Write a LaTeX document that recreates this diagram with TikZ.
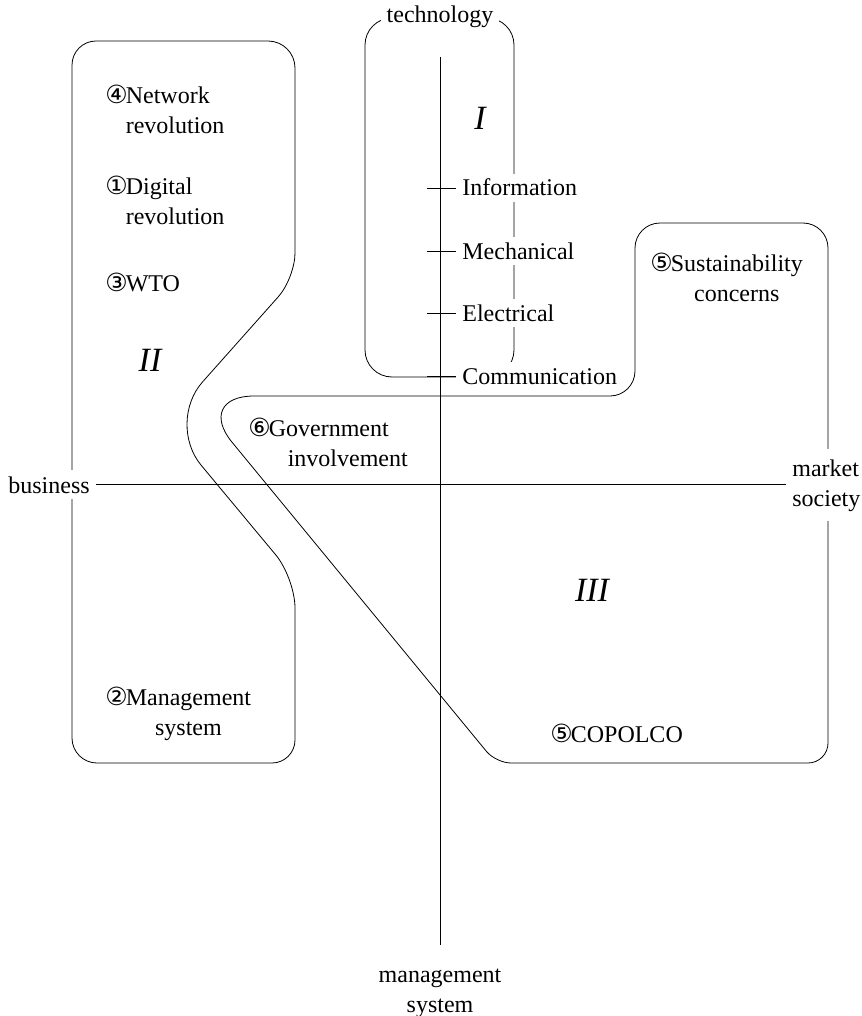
\documentclass[tikz,border=0pt]{standalone}
\usepackage{fontspec}
\setmainfont{Liberation Serif}
\newfontfamily\circfont{DejaVu Sans}
\newcommand{\cn}[1]{{\circfont\fontsize{12.5}{12}\selectfont#1}\kern-1pt}
\newcommand{\topic}[3]{\cn{#1}\begin{tabular}[t]{@{}#2@{}}#3\end{tabular}}

\begin{document}
\begin{tikzpicture}[x=0.5pt,y=-0.5pt,
    font=\fontsize{12}{15}\selectfont,
    lab/.style={fill=white,inner sep=3pt},
    txt/.style={inner sep=3pt,anchor=base west},
    row/.style={lab,anchor=base west,text height=8pt,text depth=0pt},
    quad/.style={font=\fontsize{17}{20}\selectfont\itshape}]
  \useasboundingbox (0,0) rectangle (861,1016);

  % frames
  \draw[rounded corners=13.5pt] (365,18) rectangle (514,377);
  \draw (150,41) [rounded corners=13.5pt] -- (295,41)
        [rounded corners=12.5pt] -- (295,278)
        [rounded corners=27.5pt] -- (166,423)
        [rounded corners=15pt] -- (295,578)
        [rounded corners=11.5pt] -- (295,763)
        [rounded corners=12.5pt] -- (72,763)
        [rounded corners=12pt] -- (72,41) -- cycle;
  \draw (720,223) [rounded corners=12.5pt] -- (828,223)
        [rounded corners=10pt] -- (828,763)
        [rounded corners=7.5pt] -- (496,763)
        [rounded corners=30pt] -- (194,396)
        [rounded corners=12.5pt] -- (635,396)
        [rounded corners=12.5pt] -- (635,223) -- cycle;

  % axis labels
  \node[lab,anchor=base] (tech) at (440,23) {technology};
  \node[lab,anchor=base west] (busi) at (2,493) {business};
  \node[lab,anchor=base west] (mkt) at (786,476)
       {\begin{tabular}[t]{@{}l@{}}market\\society\end{tabular}};
  \node[lab,anchor=base] (mgmt) at (440,982)
       {\begin{tabular}[t]{@{}c@{}}management\\system\end{tabular}};

  % axes
  \coordinate (top) at (440,57);
  \coordinate (bot) at (440,945);
  \draw (top) -- (bot);
  \draw (busi.east) -- (busi.east -| mkt.west);

  % technology scale
  \node[row] (info) at (456,196) {Information};
  \node[row] (mech) at (456,259) {Mechanical};
  \node[row] (elec) at (456,321) {Electrical};
  \node[row] (comm) at (456,384) {Communication};
  \foreach \n in {info,mech,elec,comm}
    \draw (\n.west) -- ++(-29,0);

  % quadrants
  \node[quad] (q1) at (480,118) {I};
  \node[quad] (q2) at (150,360) {II};
  \node[quad] (q3) at (592,590) {III};

  % topics
  \node[txt] (netw) at (99,104) {\topic{④}{l}{Network\\revolution}};
  \node[txt] (digi) at (99,195) {\topic{①}{l}{Digital\\revolution}};
  \node[txt] (wto) at (99,291) {\cn{③}WTO};
  \node[txt] (msys) at (99,705) {\topic{②}{c}{Management\\system}};
  \node[txt] (gov) at (242,436)
       {\topic{⑥}{l}{Government\\\hspace*{9.5pt}involvement}};
  \node[txt] (sust) at (644,271) {\topic{⑤}{c}{Sustainability\\concerns}};
  \node[txt] (copo) at (544,742) {\cn{⑤}COPOLCO};
\end{tikzpicture}
\end{document}
